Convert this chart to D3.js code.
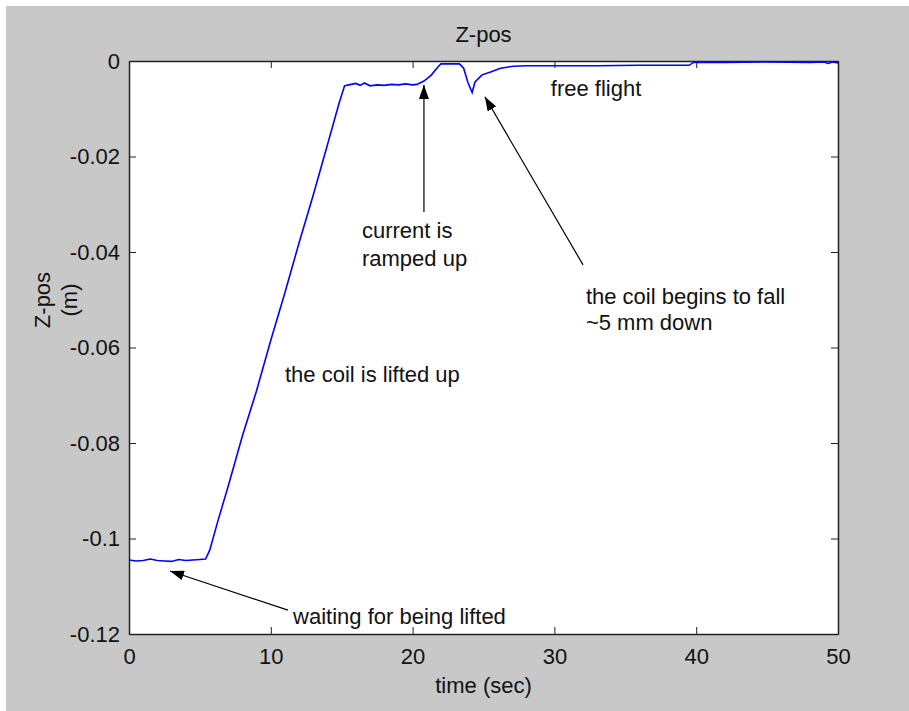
<!DOCTYPE html>
<html>
<head>
<meta charset="utf-8">
<script src="https://cdn.jsdelivr.net/npm/d3@7"></script>
<style>
  body { margin: 0; background: #fff; }
</style>
</head>
<body>
<div id="chart"></div>
<script>
var width = 909
var height = 711
const font = "Liberation Sans, Arial, sans-serif"

// time (sec)
const timeVals = [0, 0.5, 1, 1.5, 2, 2.5, 3, 3.5, 4, 4.5, 5, 5.4, 5.7, 6.3,
  7, 8, 9, 10, 11, 12, 13, 14, 14.8, 15.2, 15.5, 16, 16.3, 16.6, 17, 17.5, 18,
  18.5, 19, 19.5, 20, 20.3, 20.8, 21.3, 21.8, 22, 23.3, 23.6, 23.9, 24.2, 24.4,
  24.9, 25.5, 26.2, 27.1, 28, 30, 33, 36, 39.5, 39.8, 42, 45, 48, 49, 49.3, 49.6, 50];
// Z-pos (m)
const zVals = [-0.1045, -0.1047, -0.1046, -0.1043, -0.1046, -0.1047, -0.1048, -0.1044, -0.1046, -0.1045, -0.1044, -0.1043, -0.1024, -0.0960,
  -0.0890, -0.0785, -0.0690, -0.0585, -0.0485, -0.0380, -0.0280, -0.0175, -0.0090, -0.0052, -0.0050, -0.0047, -0.0051, -0.0046, -0.0052, -0.0050, -0.0051,
  -0.0049, -0.0050, -0.0048, -0.0050, -0.0049, -0.0042, -0.0030, -0.0012, -0.0006, -0.0006, -0.0015, -0.0045, -0.0066, -0.0044,
  -0.0029, -0.0023, -0.0015, -0.0011, -0.0010, -0.0010, -0.0010, -0.0009, -0.0009, -0.0003, -0.0003, -0.0002, -0.0003, -0.0002, -0.0005, -0.0002, -0.0004];

const xTicks = [0, 10, 20, 30, 40, 50];
const yTicks = [0, -0.02, -0.04, -0.06, -0.08, -0.1, -0.12];

// annotations: text lines at [t, z], arrows from tail [t, z] to tip [t, z]
const labelText = ["free flight", "current is", "ramped up", "the coil begins to fall", "~5 mm down", "the coil is lifted up", "waiting for being lifted"];
const labelPos = [[29.75, -0.0074], [16.43, -0.0371], [16.43, -0.0429], [32.22, -0.0509], [32.22, -0.0564], [11.0, -0.0672], [11.57, -0.1179]];
const arrowFrom = [[20.8, -0.0316], [32.02, -0.0427], [11.21, -0.1150]];
const arrowTo = [[20.8, -0.0050], [25.1, -0.0075], [2.89, -0.1068]];

const data = timeVals.map((t, i) => ({t: t, z: zVals[i]}));

var svg = d3.select("#chart").append("svg")
  .attr("width", width)
  .attr("height", height)

svg.append("rect").attr("x", 6).attr("y", 6)
  .attr("width", width - 6).attr("height", height - 6)
  .attr("fill", "#c8c8c8")

const margin = {top: 61, right: 71, bottom: 77, left: 129}
const innerWidth = width - margin.left - margin.right
const innerHeight = height - margin.top - margin.bottom

const xScale = d3.scaleLinear().domain([0, 50]).range([0, innerWidth])
const yScale = d3.scaleLinear().domain([-0.12, 0]).range([innerHeight, 0])

const g = svg.append("g").attr("transform", `translate(${margin.left}, ${margin.top})`)

g.append("rect").attr("width", innerWidth).attr("height", innerHeight).attr("fill", "white")

// plain hyphen minus, like the original
const fmt = d => String(+d.toFixed(2))
const tickLen = 7

// ticks point inward on all four sides
g.append("g").attr("transform", `translate(0, ${innerHeight})`)
  .call(d3.axisBottom(xScale).tickValues(xTicks).tickSizeInner(-tickLen).tickSizeOuter(0).tickPadding(14).tickFormat(fmt))
g.append("g").attr("class", "noLabels")
  .call(d3.axisTop(xScale).tickValues(xTicks).tickSizeInner(-tickLen).tickSizeOuter(0))
g.append("g")
  .call(d3.axisLeft(yScale).tickValues(yTicks).tickSizeInner(-tickLen).tickSizeOuter(0).tickPadding(9).tickFormat(fmt))
g.append("g").attr("class", "noLabels").attr("transform", `translate(${innerWidth}, 0)`)
  .call(d3.axisRight(yScale).tickValues(yTicks).tickSizeInner(-tickLen).tickSizeOuter(0))
g.selectAll(".noLabels .tick text").remove()

g.selectAll(".domain").attr("stroke", "#222").attr("stroke-width", 1.5)
g.selectAll(".tick line").attr("stroke", "#222")
g.selectAll(".tick text").attr("font-size", 22).attr("fill", "#111")
  .attr("font-family", font)

const line = d3.line().x(d => xScale(d.t)).y(d => yScale(d.z))
g.append("path").datum(data)
  .attr("d", line)
  .attr("fill", "none")
  .attr("stroke", "#0000ff")
  .attr("stroke-width", 1.6)

// arrows
svg.append("defs").append("marker")
  .attr("id", "head").attr("viewBox", "0 0 14 10")
  .attr("refX", 14).attr("refY", 5)
  .attr("markerWidth", 14).attr("markerHeight", 10)
  .attr("markerUnits", "userSpaceOnUse")
  .attr("orient", "auto")
  .append("path").attr("d", "M0,0 L14,5 L0,10 Z").attr("fill", "#000")

g.selectAll(".arrow").data(arrowFrom).enter().append("line")
  .attr("x1", d => xScale(d[0])).attr("y1", d => yScale(d[1]))
  .attr("x2", (d, i) => xScale(arrowTo[i][0])).attr("y2", (d, i) => yScale(arrowTo[i][1]))
  .attr("stroke", "#000").attr("stroke-width", 1.2)
  .attr("marker-end", "url(#head)")

g.selectAll(".lbl").data(labelText).enter().append("text")
  .attr("x", (d, i) => xScale(labelPos[i][0]))
  .attr("y", (d, i) => yScale(labelPos[i][1]))
  .attr("font-family", font).attr("font-size", 22).attr("fill", "#111")
  .text(d => d)

svg.append("text").attr("x", margin.left + innerWidth / 2).attr("y", 42)
  .attr("text-anchor", "middle").attr("font-family", font).attr("font-size", 22).attr("fill", "#111")
  .text("Z-pos")
svg.append("text").attr("x", margin.left + innerWidth / 2).attr("y", 693)
  .attr("text-anchor", "middle").attr("font-family", font).attr("font-size", 22).attr("fill", "#111")
  .text("time (sec)")

svg.append("text").attr("transform", "translate(50, 300) rotate(-90)")
  .attr("text-anchor", "middle").attr("font-family", font).attr("font-size", 22).attr("fill", "#111")
  .text("Z-pos")
svg.append("text").attr("transform", "translate(77, 300) rotate(-90)")
  .attr("text-anchor", "middle").attr("font-family", font).attr("font-size", 22).attr("fill", "#111")
  .text("(m)")
</script>
</body>
</html>
